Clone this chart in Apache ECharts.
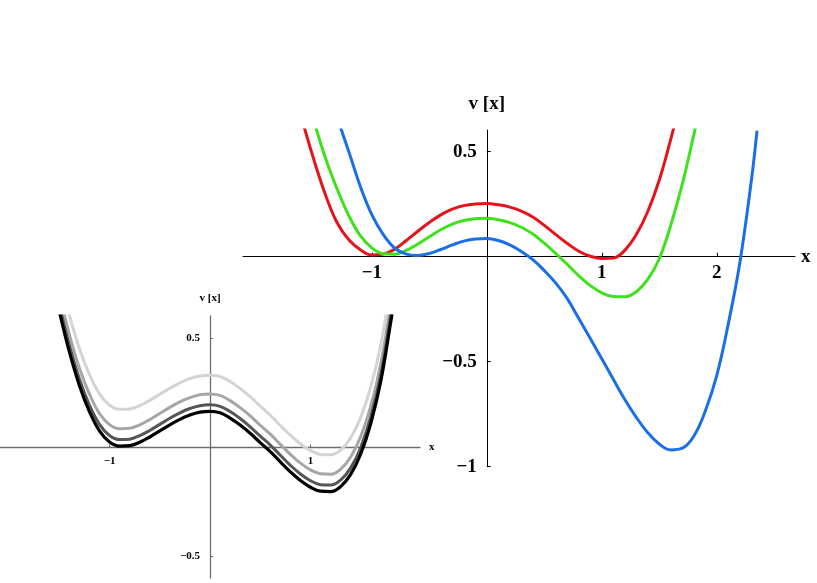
<!DOCTYPE html>
<html>
<head>
<meta charset="utf-8">
<script src="https://cdn.jsdelivr.net/npm/echarts@6/dist/echarts.min.js"></script>
<style>
  html, body { margin: 0; padding: 0; background: #fff; }
  #chart { width: 817px; height: 583px; }
</style>
</head>
<body>
<div id="chart"></div>
<script>
// big plot: three coloured potentials (step 0.1)
var redX   = [-1.6, -1.5, -1.4, -1.3, -1.2, -1.1, -1.0, -0.9, -0.8, -0.7, -0.6, -0.5, -0.4, -0.3, -0.2, -0.1, 0, 0.1, 0.2, 0.3, 0.4, 0.5, 0.6, 0.7, 0.8, 0.9, 1.0, 1.1, 1.2, 1.3, 1.4, 1.5, 1.6, 1.65];
var redY   = [0.64, 0.455, 0.29, 0.16, 0.08, 0.033, 0.008, 0.012, 0.036, 0.077, 0.121, 0.163, 0.199, 0.226, 0.243, 0.251, 0.253, 0.247, 0.236, 0.217, 0.189, 0.149, 0.105, 0.063, 0.026, 0.002, -0.009, -0.007, 0.03, 0.105, 0.215, 0.365, 0.56, 0.67];

var greenX = [-1.5, -1.4, -1.3, -1.2, -1.1, -1.0, -0.9, -0.8, -0.7, -0.6, -0.5, -0.4, -0.3, -0.2, -0.1, 0, 0.1, 0.2, 0.3, 0.4, 0.5, 0.6, 0.7, 0.8, 0.9, 1.0, 1.1, 1.2, 1.3, 1.4, 1.5, 1.6, 1.7, 1.8, 1.85];
var greenY = [0.64, 0.465, 0.32, 0.195, 0.10, 0.042, 0.014, 0.012, 0.030, 0.060, 0.095, 0.128, 0.155, 0.172, 0.181, 0.183, 0.176, 0.162, 0.140, 0.108, 0.064, 0.015, -0.037, -0.091, -0.138, -0.172, -0.190, -0.191, -0.167, -0.108, -0.01, 0.15, 0.345, 0.58, 0.70];

var blueX  = [-1.3, -1.2, -1.1, -1.0, -0.9, -0.8, -0.7, -0.6, -0.5, -0.4, -0.3, -0.2, -0.1, 0, 0.1, 0.2, 0.3, 0.4, 0.5, 0.6, 0.7, 0.8, 0.9, 1.0, 1.1, 1.2, 1.3, 1.4, 1.5, 1.6, 1.7, 1.8, 1.9, 2.0, 2.1, 2.2, 2.3, 2.35];
var blueY  = [0.66, 0.50, 0.335, 0.20, 0.105, 0.040, 0.012, 0.006, 0.015, 0.034, 0.056, 0.074, 0.084, 0.086, 0.077, 0.056, 0.025, -0.014, -0.066, -0.126, -0.200, -0.295, -0.390, -0.486, -0.584, -0.680, -0.765, -0.838, -0.892, -0.920, -0.912, -0.855, -0.735, -0.565, -0.32, -0.03, 0.36, 0.60];

// small plot: four grey potentials on a shared x grid
var smallX     = [-1.55, -1.5, -1.4, -1.3, -1.2, -1.1, -1.0, -0.9, -0.8, -0.7, -0.6, -0.5, -0.4, -0.3, -0.2, -0.1, 0, 0.1, 0.2, 0.3, 0.4, 0.5, 0.6, 0.7, 0.8, 0.9, 1.0, 1.1, 1.2, 1.3, 1.4, 1.5, 1.6, 1.7, 1.8, 1.85];
var blackY     = [0.72, 0.625, 0.44, 0.285, 0.165, 0.076, 0.025, 0.006, 0.008, 0.024, 0.048, 0.076, 0.104, 0.129, 0.149, 0.162, 0.166, 0.159, 0.135, 0.103, 0.065, 0.022, -0.019, -0.066, -0.112, -0.152, -0.183, -0.201, -0.203, -0.180, -0.124, -0.030, 0.11, 0.305, 0.58, 0.72];
var darkGreyY  = [0.75, 0.655, 0.47, 0.315, 0.195, 0.106, 0.055, 0.036, 0.038, 0.054, 0.078, 0.106, 0.134, 0.159, 0.179, 0.192, 0.196, 0.189, 0.165, 0.133, 0.095, 0.052, 0.011, -0.036, -0.082, -0.122, -0.153, -0.171, -0.173, -0.150, -0.094, 0.0, 0.14, 0.335, 0.61, 0.75];
var midGreyY   = [0.80, 0.705, 0.52, 0.365, 0.245, 0.156, 0.105, 0.086, 0.088, 0.104, 0.128, 0.156, 0.184, 0.209, 0.229, 0.242, 0.246, 0.239, 0.215, 0.183, 0.145, 0.102, 0.061, 0.014, -0.032, -0.072, -0.103, -0.121, -0.123, -0.100, -0.044, 0.05, 0.19, 0.385, 0.66, 0.80];
var lightGreyY = [0.89, 0.79, 0.61, 0.455, 0.335, 0.246, 0.194, 0.176, 0.177, 0.192, 0.216, 0.244, 0.272, 0.297, 0.316, 0.328, 0.332, 0.326, 0.303, 0.271, 0.233, 0.19, 0.148, 0.101, 0.056, 0.016, -0.015, -0.032, -0.034, -0.012, 0.044, 0.138, 0.278, 0.473, 0.748, 0.90];

var bigXTicks = [-1, 1, 2];
var bigYTicks = [0.5, -0.5, -1];
var smallXTicks = [-1, 1];
var smallYTicks = [0.5, -0.5];

function pairs(xs, ys) {
  return xs.map(function (x, i) { return [x, ys[i]]; });
}
function minus(v) {
  return String(v).replace('-', '\u2212');
}

var serif = '"Liberation Serif", "DejaVu Serif", serif';

function lineSeries(name, xs, ys, color, idx, width) {
  return {
    name: name,
    type: 'line',
    xAxisIndex: idx,
    yAxisIndex: idx,
    data: pairs(xs, ys),
    smooth: 0.4,
    showSymbol: false,
    clip: true,
    lineStyle: { color: color, width: width },
    silent: true
  };
}

// axes are pushed onto the origin with a negative offset so labels follow them
var chart = echarts.init(document.getElementById('chart'));
var option = {
  animation: false,
  backgroundColor: '#fff',
  grid: [
    { left: 243, top: 130, width: 552, height: 336.7, outerBoundsMode: 'none', containLabel: false },
    { left: 0, top: 316, width: 420, height: 262, outerBoundsMode: 'none', containLabel: false }
  ],
  xAxis: [
    {
      gridIndex: 0,
      type: 'value',
      position: 'bottom',
      offset: -210.04,
      min: -2.12,
      max: 2.68,
      name: 'x',
      nameLocation: 'end',
      nameGap: 6,
      nameTextStyle: { fontFamily: serif, fontWeight: 'bold', fontSize: 19, color: '#000' },
      axisLine: { onZero: false, lineStyle: { color: '#000', width: 1 } },
      axisTick: { inside: true, length: 4, customValues: bigXTicks, lineStyle: { color: '#000' } },
      axisLabel: { customValues: bigXTicks, formatter: minus, margin: 7, fontFamily: serif, fontWeight: 'bold', fontSize: 19, color: '#000' },
      splitLine: { show: false }
    },
    {
      gridIndex: 1,
      type: 'value',
      position: 'bottom',
      offset: -130.6,
      min: -2.09,
      max: 2.09,
      name: 'x',
      nameLocation: 'end',
      nameGap: 9,
      nameTextStyle: { fontFamily: serif, fontWeight: 'bold', fontSize: 11, color: '#000' },
      axisLine: { onZero: false, lineStyle: { color: '#6e6e6e', width: 1.3 } },
      axisTick: { inside: true, length: 3, customValues: smallXTicks, lineStyle: { color: '#6e6e6e' } },
      axisLabel: { customValues: smallXTicks, formatter: minus, margin: 8, fontFamily: serif, fontWeight: 'bold', fontSize: 11, color: '#000' },
      splitLine: { show: false }
    }
  ],
  yAxis: [
    {
      gridIndex: 0,
      type: 'value',
      position: 'left',
      offset: -243.8,
      min: -1,
      max: 0.603,
      name: 'v [x]',
      nameLocation: 'end',
      nameGap: 16,
      nameTextStyle: { fontFamily: serif, fontWeight: 'bold', fontSize: 19, color: '#000' },
      axisLine: { onZero: false, lineStyle: { color: '#000', width: 1 } },
      axisTick: { inside: true, length: 4, customValues: bigYTicks, lineStyle: { color: '#000' } },
      axisLabel: { customValues: bigYTicks, formatter: minus, margin: 10, fontFamily: serif, fontWeight: 'bold', fontSize: 19, color: '#000' },
      splitLine: { show: false }
    },
    {
      gridIndex: 1,
      type: 'value',
      position: 'left',
      offset: -210,
      min: -0.6,
      max: 0.604,
      name: 'v [x]',
      nameLocation: 'end',
      nameGap: 12,
      nameTextStyle: { fontFamily: serif, fontWeight: 'bold', fontSize: 11, color: '#000' },
      axisLine: { onZero: false, lineStyle: { color: '#6e6e6e', width: 1.3 } },
      axisTick: { inside: true, length: 3, customValues: smallYTicks, lineStyle: { color: '#6e6e6e' } },
      axisLabel: { customValues: smallYTicks, formatter: minus, margin: 10, fontFamily: serif, fontWeight: 'bold', fontSize: 11, color: '#000' },
      splitLine: { show: false }
    }
  ],
  series: [
    lineSeries('red', redX, redY, '#e4141c', 0, 3),
    lineSeries('green', greenX, greenY, '#3fe11c', 0, 3),
    lineSeries('blue', blueX, blueY, '#1a6fe6', 0, 3),
    lineSeries('light', smallX, lightGreyY, '#d4d4d4', 1, 3),
    lineSeries('mid', smallX, midGreyY, '#a6a6a6', 1, 3),
    lineSeries('dark', smallX, darkGreyY, '#565656', 1, 3),
    lineSeries('black', smallX, blackY, '#000000', 1, 3.2)
  ]
};
chart.setOption(option);
</script>
</body>
</html>
